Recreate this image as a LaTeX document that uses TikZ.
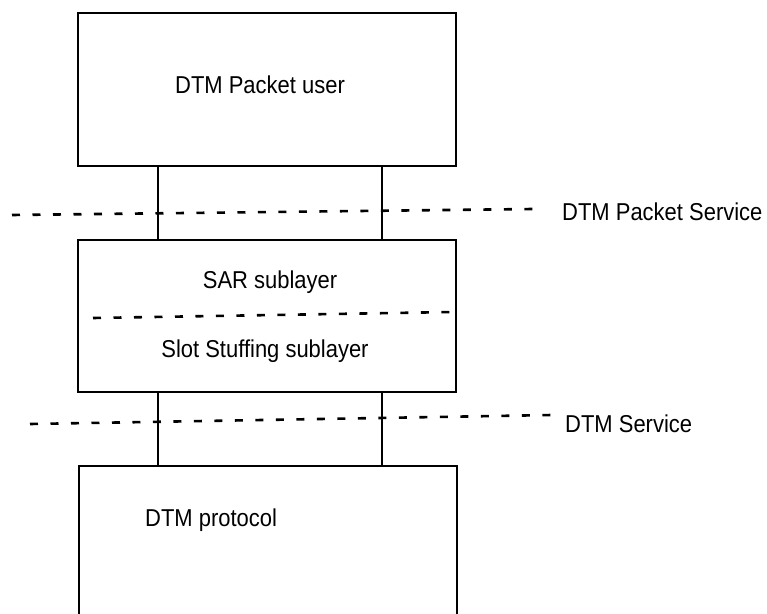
\documentclass[tikz,border=0pt]{standalone}
\usepackage{fontspec}
\setmainfont{Liberation Sans}
\newfontfamily\lblfont[FakeStretch=0.9]{Liberation Sans}
\begin{document}
\begin{tikzpicture}[x=1bp,y=-1bp,
  layerbox/.style={draw,line width=1.8bp,minimum width=378bp,inner sep=0pt},
  link/.style={line width=1.8bp},
  servline/.style={line width=2.6bp,dash pattern=on 8bp off 12.5bp},
  lbl/.style={font=\lblfont\fontsize{24.5}{28}\selectfont,inner sep=0pt}]
\useasboundingbox (0,0) rectangle (767,614);
% layers
\node[layerbox,minimum height=153bp] (user) at (267,89.5) {};
\node[layerbox,minimum height=152bp] (sar) at (267,316) {};
\node[minimum width=378bp,minimum height=160bp,inner sep=0pt] (proto) at (268,546) {};
\draw[link] (proto.south west) -- (proto.north west) -- (proto.north east) -- (proto.south east);
% texts
\node[lbl] (usertxt) at (260,85) {DTM Packet user};
\node[lbl] (sartxt) at (270,282) {SAR sublayer};
\node[lbl] (slottxt) at (265,351) {Slot Stuffing sublayer};
\node[lbl,anchor=west] (prototxt) at (145,520) {DTM protocol};
% links between layers
\coordinate (l) at (158,0);
\coordinate (r) at (382,0);
\draw[link] (user.south -| l) -- (sar.north -| l);
\draw[link] (user.south -| r) -- (sar.north -| r);
\draw[link] (sar.south -| l) -- (proto.north -| l);
\draw[link] (sar.south -| r) -- (proto.north -| r);
% service boundaries
\coordinate (ps1) at (12,215);
\coordinate (ps2) at (533,209);
\node[lbl,anchor=west] (pstxt) at (562,212) {DTM Packet Service};
\draw[servline] (ps1) -- (ps2);
\coordinate (ds1) at (30,424);
\coordinate (ds2) at (552,415);
\node[lbl,anchor=west] (dstxt) at (565,424) {DTM Service};
\draw[servline] (ds1) -- (ds2);
\coordinate (sub1) at (93,318);
\coordinate (sub2) at (453,312);
\draw[servline] (sub1) -- (sub2);
\end{tikzpicture}
\end{document}
